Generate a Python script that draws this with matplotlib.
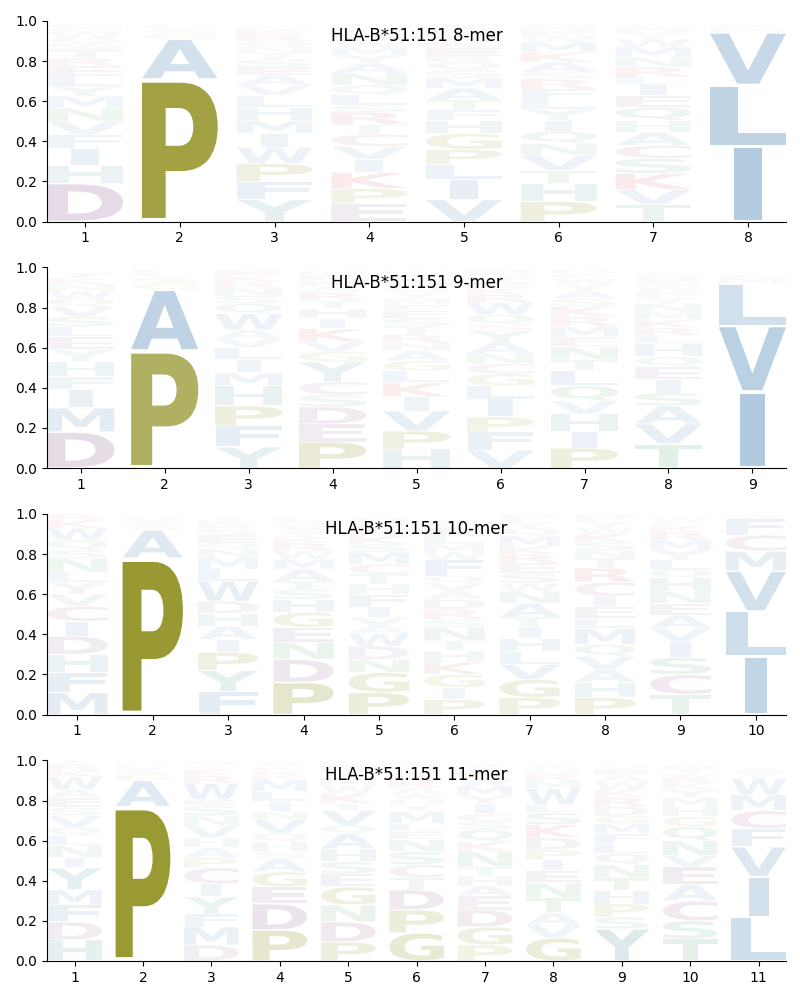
import matplotlib
matplotlib.use("Agg")
import matplotlib.pyplot as plt
from matplotlib.textpath import TextPath
from matplotlib.patches import PathPatch
from matplotlib.font_manager import FontProperties
from matplotlib.transforms import Affine2D

allele = "HLA-B*51:151"
lengths = [8, 9, 10, 11]

# each column: (letter, frequency) from bottom to top
logo_8mer = [
    [('D', .19), ('H', .09), ('I', .085), ('F', .07), ('V', .065), ('N', .065), ('M', .06), ('Y', .05),
     ('L', .05), ('E', .05), ('R', .04), ('T', .04), ('S', .03), ('Q', .03), ('W', .03), ('C', .02), ('G', .02)],
    [('P', .71), ('A', .2), ('G', .025), ('S', .02), ('V', .015), ('E', .01), ('L', .01)],
    [('Y', .11), ('F', .09), ('P', .09), ('W', .08), ('I', .07), ('M', .065), ('H', .065), ('L', .06), ('V', .05),
     ('A', .05), ('E', .04), ('S', .04), ('T', .03), ('N', .03), ('Q', .03), ('R', .03), ('K', .03), ('D', .01), ('G', .01)],
    [('E', .09), ('P', .075), ('K', .08), ('I', .065), ('V', .065), ('C', .06), ('T', .05), ('R', .06), ('S', .035),
     ('L', .05), ('Q', .05), ('N', .06), ('A', .05), ('Y', .04), ('M', .04), ('W', .03), ('D', .03), ('G', .02),
     ('H', .02), ('F', .02)],
    [('V', .11), ('I', .1), ('L', .075), ('P', .075), ('G', .08), ('H', .065), ('F', .05), ('T', .05), ('A', .06),
     ('M', .05), ('S', .04), ('Q', .04), ('R', .03), ('E', .04), ('K', .03), ('W', .03), ('N', .03), ('Y', .03)],
    [('P', .1), ('H', .09), ('T', .065), ('V', .075), ('N', .06), ('Q', .06), ('I', .055), ('Y', .055), ('L', .05),
     ('F', .05), ('R', .05), ('S', .035), ('A', .05), ('K', .05), ('M', .05), ('W', .03), ('E', .02), ('D', .02),
     ('G', .02)],
    [('T', .085), ('V', .075), ('K', .08), ('S', .075), ('C', .065), ('A', .065), ('H', .06), ('Q', .065), ('E', .06),
     ('I', .055), ('L', .035), ('R', .05), ('N', .05), ('M', .05), ('W', .04), ('Y', .03), ('D', .02), ('G', .02),
     ('F', .01)],
    [('I', .376), ('L', .305), ('V', .262), ('M', .02), ('F', .015), ('W', .01), ('A', .007), ('Y', .005)],
]

logo_9mer = [
    [('D', .18), ('M', .12), ('I', .09), ('F', .065), ('H', .075), ('Y', .06), ('E', .065), ('L', .05), ('S', .05),
     ('V', .05), ('Q', .04), ('W', .04), ('N', .03), ('K', .03), ('T', .03)],
    [('P', .585), ('A', .305), ('G', .03), ('S', .03), ('V', .02), ('L', .02)],
    [('Y', .105), ('F', .105), ('P', .1), ('H', .1), ('M', .065), ('I', .065), ('L', .06), ('V', .045), ('A', .045),
     ('W', .08), ('Q', .05), ('S', .04), ('N', .04), ('R', .03), ('K', .03), ('E', .03), ('T', .01)],
    [('P', .13), ('E', .09), ('D', .085), ('S', .06), ('C', .065), ('Y', .1), ('G', .05), ('V', .05), ('K', .065),
     ('I', .05), ('H', .05), ('T', .04), ('R', .04), ('A', .03), ('N', .03), ('F', .03), ('M', .02)],
    [('H', .095), ('P', .09), ('V', .1), ('I', .07), ('K', .07), ('L', .06), ('G', .05), ('A', .05), ('N', .04),
     ('R', .04), ('T', .04), ('S', .04), ('E', .04), ('F', .03), ('M', .03), ('Y', .03), ('Q', .03), ('D', .03),
     ('C', .03), ('W', .02)],
    [('V', .09), ('F', .09), ('P', .075), ('I', .09), ('L', .065), ('G', .06), ('C', .05), ('N', .05), ('A', .055),
     ('Y', .06), ('S', .03), ('Q', .05), ('W', .06), ('R', .04), ('K', .03), ('E', .03), ('T', .03), ('H', .02),
     ('D', .02)],
    [('P', .1), ('I', .08), ('H', .09), ('V', .065), ('Q', .075), ('L', .075), ('T', .055), ('N', .065), ('E', .05),
     ('M', .05), ('R', .05), ('K', .05), ('S', .04), ('A', .04), ('Y', .03), ('W', .03), ('F', .02), ('D', .02)],
    [('T', .12), ('V', .1), ('A', .09), ('S', .065), ('I', .065), ('E', .065), ('Q', .05), ('H', .065), ('L', .04),
     ('R', .04), ('K', .04), ('M', .04), ('N', .04), ('Y', .03), ('F', .03), ('W', .03), ('C', .02), ('D', .02),
     ('G', .02)],
    [('I', .38), ('V', .33), ('L', .21), ('M', .03), ('F', .02), ('A', .01)],
]

logo_10mer = [
    [('M', .11), ('F', .1), ('H', .09), ('D', .09), ('I', .075), ('C', .075), ('V', .06), ('Y', .06), ('L', .05),
     ('N', .07), ('S', .04), ('Q', .05), ('W', .06), ('K', .04), ('R', .03)],
    [('P', .78), ('A', .14), ('G', .02), ('S', .02), ('V', .02), ('L', .015)],
    [('F', .115), ('Y', .105), ('P', .09), ('I', .065), ('A', .065), ('H', .065), ('D', .06), ('W', .1), ('L', .06),
     ('M', .06), ('N', .04), ('Q', .03), ('E', .04), ('S', .03), ('R', .02), ('K', .02), ('T', .02)],
    [('P', .16), ('D', .115), ('N', .085), ('E', .075), ('G', .075), ('H', .065), ('S', .05), ('T', .04), ('A', .06),
     ('M', .05), ('W', .04), ('R', .04), ('K', .03), ('Y', .03), ('V', .03), ('Q', .02), ('L', .02), ('F', .01)],
    [('P', .11), ('G', .1), ('N', .065), ('D', .065), ('W', .065), ('A', .04), ('V', .04), ('I', .05), ('F', .065),
     ('H', .05), ('T', .05), ('C', .05), ('M', .06), ('S', .04), ('K', .04), ('R', .03), ('E', .03), ('Q', .03)],
    [('P', .075), ('I', .06), ('G', .065), ('K', .06), ('H', .06), ('T', .05), ('N', .065), ('S', .04), ('R', .05),
     ('D', .05), ('A', .04), ('V', .04), ('Q', .035), ('F', .08), ('W', .04), ('M', .04), ('L', .04), ('E', .04),
     ('Y', .02), ('C', .02)],
    [('P', .085), ('G', .09), ('V', .075), ('L', .065), ('H', .065), ('I', .06), ('T', .045), ('A', .07), ('N', .06),
     ('W', .04), ('S', .05), ('E', .05), ('R', .045), ('K', .04), ('M', .05), ('Q', .04), ('Y', .03), ('F', .02),
     ('D', .02)],
    [('P', .085), ('H', .075), ('A', .065), ('V', .065), ('Q', .06), ('M', .08), ('L', .05), ('E', .06), ('I', .05),
     ('C', .07), ('R', .07), ('T', .05), ('N', .04), ('S', .04), ('K', .04), ('W', .03), ('Y', .03), ('F', .02),
     ('D', .02)],
    [('T', .1), ('C', .1), ('S', .085), ('I', .08), ('V', .065), ('A', .065), ('E', .06), ('N', .06), ('H', .065),
     ('Q', .04), ('L', .05), ('Y', .05), ('M', .05), ('R', .04), ('K', .03), ('F', .02), ('W', .02), ('G', .01)],
    [('I', .29), ('L', .225), ('V', .2), ('M', .1), ('C', .08), ('F', .08), ('W', .02)],
]

logo_11mer = [
    [('H', .105), ('D', .09), ('F', .085), ('M', .075), ('Y', .11), ('I', .05), ('N', .06), ('L', .05), ('Q', .04),
     ('V', .06), ('S', .04), ('E', .05), ('A', .04), ('W', .065), ('K', .03), ('R', .03), ('T', .02)],
    [('P', .77), ('A', .13), ('G', .03), ('S', .02), ('V', .02), ('L', .02)],
    [('D', .08), ('M', .09), ('F', .065), ('Y', .085), ('I', .065), ('C', .08), ('P', .05), ('A', .05), ('H', .05),
     ('V', .06), ('N', .05), ('S', .05), ('E', .03), ('W', .08), ('R', .04), ('K', .03), ('T', .02), ('Q', .02)],
    [('P', .155), ('D', .13), ('E', .085), ('G', .075), ('A', .065), ('S', .035), ('H', .05), ('Q', .04), ('V', .07),
     ('N', .04), ('I', .05), ('L', .05), ('M', .06), ('K', .02), ('R', .02), ('F', .02), ('Y', .02), ('W', .015)],
    [('P', .095), ('D', .1), ('N', .085), ('G', .09), ('E', .065), ('S', .06), ('H', .065), ('A', .075), ('Q', .04),
     ('V', .075), ('I', .035), ('K', .05), ('W', .04), ('M', .04), ('T', .03), ('R', .03), ('L', .02)],
    [('G', .14), ('P', .115), ('D', .1), ('T', .06), ('C', .065), ('S', .065), ('N', .06), ('E', .04), ('L', .04),
     ('M', .06), ('I', .03), ('H', .03), ('W', .03), ('A', .03), ('R', .03), ('K', .03), ('V', .03), ('Q', .02),
     ('Y', .02)],
    [('P', .08), ('G', .09), ('D', .085), ('E', .07), ('A', .05), ('H', .05), ('T', .045), ('N', .075), ('K', .05),
     ('Q', .06), ('S', .04), ('C', .04), ('I', .05), ('Y', .04), ('M', .05), ('W', .04), ('R', .03), ('L', .02),
     ('V', .02)],
    [('G', .115), ('V', .065), ('A', .06), ('T', .075), ('N', .075), ('E', .06), ('I', .055), ('P', .05), ('D', .06),
     ('K', .065), ('S', .06), ('L', .04), ('W', .08), ('M', .04), ('R', .03), ('H', .02), ('Q', .02), ('F', .02)],
    [('Y', .16), ('S', .06), ('P', .065), ('H', .065), ('T', .065), ('N', .065), ('Q', .055), ('L', .05), ('F', .05),
     ('M', .05), ('G', .04), ('D', .045), ('R', .045), ('K', .04), ('W', .04), ('A', .03), ('E', .03), ('V', .02)],
    [('T', .11), ('S', .09), ('C', .1), ('A', .08), ('E', .09), ('V', .055), ('N', .075), ('Q', .07), ('G', .05),
     ('H', .05), ('M', .045), ('Y', .04), ('K', .03), ('R', .03), ('W', .02), ('I', .02), ('D', .02)],
    [('L', .22), ('I', .2), ('V', .15), ('F', .09), ('C', .09), ('M', .08), ('W', .08), ('Y', .03), ('A', .02)],
]

logos = [logo_8mer, logo_9mer, logo_10mer, logo_11mer]

# colour scheme
blue = (70/255, 130/255, 180/255)
olive = (128/255, 128/255, 0/255)
purple = (140/255, 90/255, 140/255)
pinkpurple = (160/255, 80/255, 150/255)
red = (200/255, 60/255, 60/255)
green = (70/255, 160/255, 90/255)
teal = (80/255, 145/255, 155/255)
aa_colors = {}
for c in "AVLIMFW":
    aa_colors[c] = blue
for c in "PG":
    aa_colors[c] = olive
for c in "DE":
    aa_colors[c] = purple
aa_colors['C'] = pinkpurple
for c in "KR":
    aa_colors[c] = red
for c in "NQST":
    aa_colors[c] = green
for c in "HY":
    aa_colors[c] = teal

fp = FontProperties(family='DejaVu Sans', weight='bold')
_ref_bb = TextPath((0, 0), 'E', size=1, prop=fp).get_extents()
col_width = 0.8
vpad = 0.05


def draw_glyph(ax, char, x, y0, h, color, alpha):
    tp = TextPath((0, 0), char, size=1, prop=fp)
    bb = tp.get_extents()
    sx = col_width / max(bb.width, _ref_bb.width)
    sy = h * (1 - vpad) / bb.height
    tr = (Affine2D().translate(-bb.x0, -bb.y0).scale(sx, sy)
          .translate(x - bb.width * sx / 2, y0 + h * vpad / 2))
    path = tr.transform_path(tp)
    ax.add_patch(PathPatch(path, facecolor=color, edgecolor='none', alpha=alpha, lw=0))


fig, axes = plt.subplots(4, 1, figsize=(8, 10), dpi=100)
fig.subplots_adjust(left=0.059, right=0.9825, top=0.979, bottom=0.039, hspace=0.229)

for ax, L, logo in zip(axes, lengths, logos):
    for pos, column in enumerate(logo, start=1):
        y = 0.0
        for ch, f in column:
            a = min(1.0, f ** 0.9)
            draw_glyph(ax, ch, pos, y, f, aa_colors[ch], a)
            y += f
    ax.set_xlim(0.6, L + 0.4)
    ax.set_ylim(0, 1.0)
    ax.set_xticks(range(1, L + 1))
    ax.set_yticks([0, 0.2, 0.4, 0.6, 0.8, 1.0])
    ax.spines['top'].set_visible(False)
    ax.spines['right'].set_visible(False)
    ax.text(0.5, 0.925, f"{allele} {L}-mer", transform=ax.transAxes,
            ha='center', va='center', fontsize=12, zorder=10)

fig.savefig("out.png", dpi=100)
